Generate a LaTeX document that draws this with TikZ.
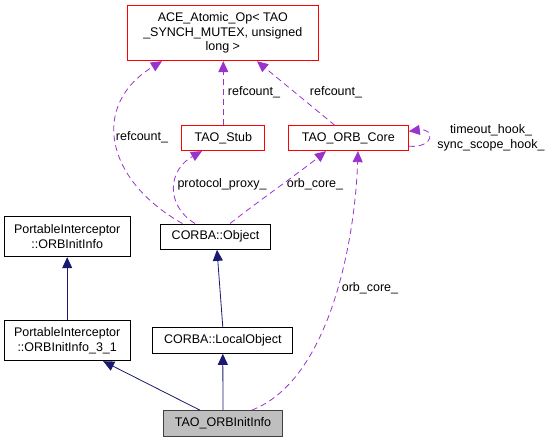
\documentclass[tikz,border=0pt]{standalone}
\usepackage{fontspec}
\setmainfont{Liberation Sans}
\usetikzlibrary{arrows.meta}
\definecolor{edgeblue}{HTML}{191970}
\definecolor{edgepurple}{HTML}{9A32CD}
\tikzset{
	cls/.style={draw=black, fill=white, line width=1pt, inner sep=0pt, align=center, font=\fontsize{12.5}{14.5}\selectfont},
	trunc/.style={cls, draw=red},
	self/.style={cls, fill=gray!50, draw=black!75},
	inherit/.style={draw=edgeblue, line width=0.8pt, -{Triangle[length=11pt,width=10pt]}},
	usage/.style={draw=edgepurple, line width=0.8pt, dash pattern=on 6pt off 4pt, -{Triangle[length=11pt,width=10pt]}},
	lbl/.style={font=\fontsize{12.5}{14.5}\selectfont, align=center, inner sep=0pt},
}
\begin{document}
\begin{tikzpicture}[x=1pt, y=-1pt]
		\useasboundingbox (0,0) rectangle (551,443);
		
		% classes
		\node[trunc, minimum width=191pt, minimum height=55pt] (ace) at (222.8, 33.2){ACE\_Atomic\_Op< TAO\\\_SYNCH\_MUTEX, unsigned\\long >};
		\node[trunc, minimum width=83pt, minimum height=24.7pt] (stub) at (223.3, 138.3){TAO\_Stub};
		\node[trunc, minimum width=120pt, minimum height=24.7pt] (orbcore) at (348.3, 138.3){TAO\_ORB\_Core};
		\node[cls, minimum width=125.7pt, minimum height=40pt] (pioii) at (67.2, 236.7){PortableInterceptor\\::ORBInitInfo};
		\node[cls, minimum width=110.4pt, minimum height=25.3pt] (object) at (215.5, 236.7){CORBA::Object};
		\node[cls, minimum width=125.7pt, minimum height=40pt] (pioiithree) at (67.2, 340.7){PortableInterceptor\\::ORBInitInfo\_3\_1};
		\node[cls, minimum width=139.7pt, minimum height=25.6pt] (localobj) at (222.8, 340.5){CORBA::LocalObject};
		\node[self, minimum width=119.4pt, minimum height=26pt] (initinfo) at (223, 423.7){TAO\_ORBInitInfo};
		
		% inheritance
		\draw[inherit] (pioiithree.north) -- (pioii.south);
		\draw[inherit] (localobj.north) -- ([xshift=1.5pt]object.south);
		\draw[inherit] ([xshift=-23pt]initinfo.north) -- ([xshift=36pt]pioiithree.south);
		\draw[inherit] (initinfo.north) -- (localobj.south);
		
		% usage
		\draw[usage] ([xshift=-33pt]object.north) .. controls (105,180) and (90,105) .. ([xshift=-60.8pt]ace.south);
		\draw[usage] ([xshift=-20.5pt]object.north) .. controls (165,205) and (168,170) .. ([xshift=-21.3pt]stub.south);
		\draw[usage] ([xshift=14.5pt]object.north) .. controls (260,200) and (300,172) .. ([xshift=-22.3pt]orbcore.south);
		\draw[usage] ([xshift=28.7pt]initinfo.north) .. controls (330,380) and (355,240) .. ([xshift=9.7pt]orbcore.south);
		\draw[usage] (stub.north) -- (stub.north |- ace.south);
		\draw[usage] ([xshift=-13.3pt]orbcore.north) -- ([xshift=34.2pt]ace.south);
		\draw[usage] ([yshift=-8pt]orbcore.east) .. controls (435,148) and (435,128) .. ([yshift=7pt]orbcore.east);
		
		% labels
		\node[lbl] (lrefa) at (142, 137){refcount\_};
		\node[lbl] (lrefb) at (254, 92){refcount\_};
		\node[lbl] (lrefc) at (336, 92){refcount\_};
		\node[lbl] (lhook) at (491, 138){timeout\_hook\_\\sync\_scope\_hook\_};
		\node[lbl] (lproxy) at (222, 184){protocol\_proxy\_};
		\node[lbl] (lcorea) at (315, 184){orb\_core\_};
		\node[lbl] (lcoreb) at (370, 288){orb\_core\_};
	\end{tikzpicture}
\end{document}
